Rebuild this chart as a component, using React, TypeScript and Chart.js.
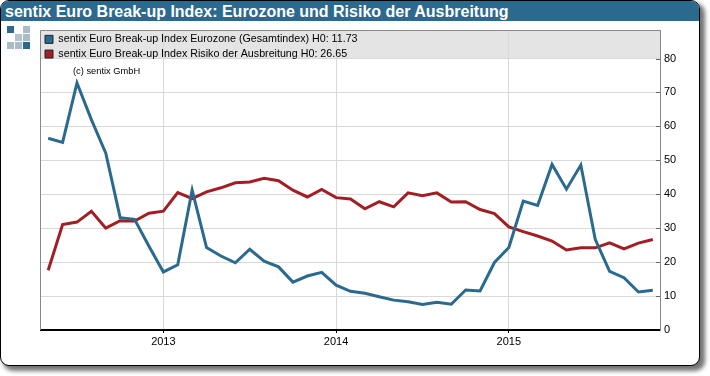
import React, { useEffect, useRef } from "react";
import { Chart, registerables } from "chart.js";

Chart.register(...registerables);

const TITLE = "sentix Euro Break-up Index: Eurozone und Risiko der Ausbreitung";
const COPYRIGHT = "(c) sentix GmbH";
const LABEL_A = "sentix Euro Break-up Index Eurozone (Gesamtindex) H0: 11.73";
const LABEL_B = "sentix Euro Break-up Index Risiko der Ausbreitung H0: 26.65";
const BLUE = "#2a6a8f";
const RED = "#a11f24";

const months = [
  "2012-05","2012-06","2012-07","2012-08","2012-09","2012-10","2012-11","2012-12",
  "2013-01","2013-02","2013-03","2013-04","2013-05","2013-06","2013-07","2013-08","2013-09","2013-10","2013-11","2013-12",
  "2014-01","2014-02","2014-03","2014-04","2014-05","2014-06","2014-07","2014-08","2014-09","2014-10","2014-11","2014-12",
  "2015-01","2015-02","2015-03","2015-04","2015-05","2015-06","2015-07","2015-08","2015-09","2015-10","2015-11",
];

const eurozone = [
  56.5, 55.3, 72.8, 62, 52.1, 33.1, 32.6, 24.7,
  17.1, 19.2, 41.2, 24.3, 21.8, 19.8, 23.8, 20.3, 18.6, 14.1, 15.9, 17,
  13.2, 11.4, 10.8, 9.8, 8.8, 8.3, 7.5, 8.2, 7.6, 11.8, 11.5, 19.9,
  24.3, 38, 36.7, 48.8, 41.5, 48.6, 26.7, 17.3, 15.4, 11.2, 11.73,
];

const risiko = [
  17.6, 31.1, 31.8, 35, 30, 32.2, 32.1, 34.4,
  35, 40.5, 38.7, 40.7, 41.9, 43.4, 43.6, 44.7, 44, 41.2, 39.2, 41.4,
  39, 38.6, 35.7, 37.8, 36.3, 40.4, 39.6, 40.4, 37.7, 37.8, 35.5, 34.3,
  30.4, 29, 27.7, 26.2, 23.6, 24.2, 24.2, 25.7, 23.9, 25.6, 26.65,
];

const logoSquares: [number, number, string][] = [
  [7, 26, "#2a6a8f"], [23, 26, "#a9bcc8"],
  [15, 34, "#b4c4cf"], [23, 34, "#a9bcc8"],
  [7, 42, "#a9bcc8"], [15, 42, "#a9bcc8"], [23, 42, "#2a6a8f"],
];

const framePlugin = {
  id: "frame",
  beforeDraw(chart: any) {
    const { ctx, chartArea: a, scales, legend } = chart;
    legend.top = a.top;
    legend.bottom = a.bottom;
    const y80 = scales.y.getPixelForValue(80);
    ctx.save();
    ctx.fillStyle = "#e4e4e4";
    ctx.fillRect(a.left, a.top, a.right - a.left, y80 - a.top);
    ctx.restore();
  },
  afterDraw(chart: any) {
    const { ctx, chartArea: a, scales } = chart;
    ctx.save();
    ctx.strokeStyle = "#888888";
    ctx.lineWidth = 1;
    ctx.beginPath();
    ctx.moveTo(a.left - 0.5, a.bottom);
    ctx.lineTo(a.left - 0.5, a.top + 0.5);
    ctx.lineTo(a.right, a.top + 0.5);
    ctx.stroke();
    ctx.strokeStyle = "#666666";
    ctx.beginPath();
    scales.y.ticks.forEach((t: any) => {
      const y = Math.round(scales.y.getPixelForValue(t.value)) + 0.5;
      if (t.value === 0) return;
      ctx.moveTo(a.right - 4, y);
      ctx.lineTo(a.right, y);
    });
    ctx.stroke();
    ctx.fillStyle = "#000";
    ctx.font = "9.3px 'Liberation Sans'";
    ctx.textBaseline = "middle";
    ctx.fillText(COPYRIGHT, 73, 71);
    ctx.restore();
  },
};

export default function App() {
  const ref = useRef<HTMLCanvasElement>(null);
  useEffect(() => {
    const font = { family: "'Liberation Sans'", size: 11 };
    const chart = new Chart(ref.current!, {
      type: "line",
      plugins: [framePlugin],
      data: {
        labels: months,
        datasets: [
          { label: LABEL_A, data: eurozone, borderColor: BLUE, backgroundColor: BLUE, borderWidth: 3, pointRadius: 0, tension: 0, borderJoinStyle: "miter" },
          { label: LABEL_B, data: risiko, borderColor: RED, backgroundColor: RED, borderWidth: 3, pointRadius: 0, tension: 0, borderJoinStyle: "miter" },
        ],
      },
      options: {
        responsive: false,
        animation: false,
        layout: { padding: { left: 41, top: 30, right: 0, bottom: 0 } },
        plugins: {
          tooltip: { enabled: false },
          legend: {
            position: "chartArea",
            align: "start",
            onClick: () => {},
            labels: {
              boxWidth: 8,
              boxHeight: 8,
              padding: 4,
              color: "#000",
              font: { family: "'Liberation Sans'", size: 10.7, lineHeight: 1 },
              generateLabels(c: any) {
                return Chart.defaults.plugins.legend.labels.generateLabels(c).map((l: any) => ({
                  ...l,
                  strokeStyle: "#222",
                  lineWidth: 1,
                }));
              },
            },
          },
        },
        scales: {
          x: {
            type: "category",
            offset: true,
            afterBuildTicks(s: any) {
              s.ticks = s.ticks.filter((t: any) => months[t.value].endsWith("-01"));
            },
            afterFit(s: any) { s.height = 46; },
            ticks: {
              autoSkip: false,
              maxRotation: 0,
              color: "#000",
              font,
              padding: 2,
              callback: (v: any) => months[v].slice(0, 4),
            },
            grid: { color: "#d9d9d9", lineWidth: 1, offset: false, tickLength: 3, tickColor: "#000" },
            border: { color: "#000", width: 2 },
          },
          y: {
            position: "right",
            min: 0,
            max: 88.4,
            afterFit(s: any) { s.width = 50; },
            ticks: { stepSize: 10, includeBounds: false, color: "#000", font, padding: 4 },
            grid: { color: "#d9d9d9", lineWidth: 1, drawTicks: false },
            border: { color: "#888888", width: 1 },
          },
        },
      },
    } as any);
    return () => chart.destroy();
  }, []);

  return (
    <div style={{ position: "absolute", left: 0, top: 0, width: 710, height: 376, overflow: "hidden", background: "#fff" }}>
      <div
        style={{
          position: "absolute", left: 0, top: 0, width: 698, height: 364,
          border: "1px solid #000", borderRadius: 9, background: "#fff",
          boxShadow: "4px 4px 4px 1px rgba(0,0,0,0.55)", overflow: "hidden",
        }}
      >
        <div
          style={{
            height: 20, background: BLUE, color: "#fff", paddingLeft: 4,
            font: "bold 16px/21px 'Liberation Sans'", whiteSpace: "nowrap",
          }}
        >
          {TITLE}
        </div>
      </div>
      {logoSquares.map(([x, y, c], i) => (
        <div key={i} style={{ position: "absolute", left: x, top: y, width: 7, height: 7, background: c }} />
      ))}
      <canvas ref={ref} width={710} height={376} style={{ position: "absolute", left: 0, top: 0, width: 710, height: 376 }} />
    </div>
  );
}
